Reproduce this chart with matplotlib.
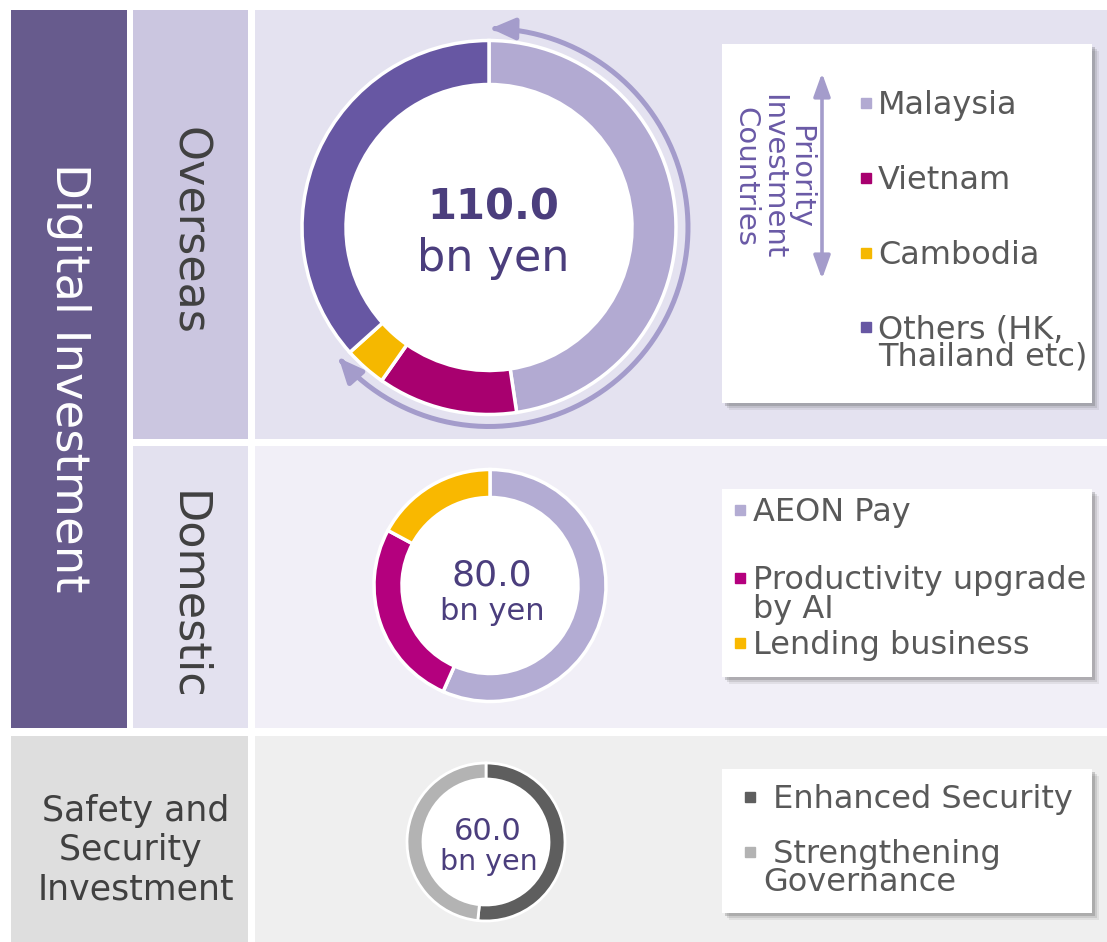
import numpy as np
import matplotlib
matplotlib.use('Agg')
import matplotlib.pyplot as plt
from matplotlib.patches import Rectangle, Circle, FancyArrowPatch, ArrowStyle
from matplotlib.path import Path

# data (bn yen)
overseas_labels = ['Malaysia', 'Vietnam', 'Cambodia', 'Others (HK,\nThailand etc)']
overseas_values = [52.4, 13.3, 4.0, 40.3]
overseas_colors = ['#b2aad2', '#a8006f', '#f5b800', '#6757a3']

domestic_labels = ['AEON Pay', 'Productivity upgrade\nby AI', 'Lending business']
domestic_values = [45.3, 21.0, 13.7]
domestic_colors = ['#b3acd3', '#b4007e', '#f9b800']

safety_labels = [' Enhanced Security', ' Strengthening\nGovernance']
safety_values = [31.0, 29.0]
safety_colors = ['#5e5e5e', '#b3b3b3']

totals = ['110.0', '80.0', '60.0']

W, H = 1107, 942
fig = plt.figure(figsize=(W / 100, H / 100), dpi=100)
ax = fig.add_axes([0, 0, 1, 1])

def Y(y):
    return H - y

def box(x0, y0, x1, y1, color, z=0, alpha=1):
    ax.add_patch(Rectangle((x0, Y(y1)), x1 - x0, y1 - y0, facecolor=color,
                           edgecolor='none', zorder=z, alpha=alpha))

def legend_box(x0, y0, x1, y1):
    for d, a in [(7, .10), (5, .15), (3, .25)]:
        box(x0 + d, y0 + d, x1 + d, y1 + d, '#555555', z=1, alpha=a)
    box(x0, y0, x1, y1, 'white', z=2)

def donut(values, colors, cx, cy, r_out, r_in, edge=2.0):
    ax.add_patch(Circle((cx, Y(cy)), r_in, facecolor='white', edgecolor='none', zorder=0.5))
    ax.pie(values, colors=colors, startangle=90, counterclock=False,
           radius=r_out, center=(cx, Y(cy)),
           wedgeprops=dict(width=r_out - r_in, edgecolor='white', linewidth=edge),
           frame=True)

def legend(labels, colors, mx, tx, ys, ls, size=23):
    # ys: centre of the first line of each label; text hung from its top
    em = size * 100 / 72
    for lab, c, y in zip(labels, colors, ys):
        ax.plot(mx, Y(y), 's', color=c, ms=6.5, zorder=5)
        top = y + 0.729 * em / 2 - 0.76 * em
        ax.text(tx, Y(top), lab, fontsize=size, color='#595959', ha='left',
                va='top', linespacing=ls, zorder=5)

# panels
box(11, 10, 127, 728, '#675b8d')
box(133, 10, 248, 439, '#cbc6e0')
box(255, 10, 1107, 439, '#e4e2f0')
box(133, 446, 248, 728, '#e3e1ef')
box(255, 446, 1107, 728, '#f1eff7')
box(11, 736, 248, 942, '#dedede')
box(255, 736, 1107, 942, '#efefef')

ax.text(68, Y(378), 'Digital Investment', rotation=-90, color='white',
        fontsize=33.5, ha='center', va='center')
ax.text(188, Y(231), 'Overseas', rotation=-90, color='#404040',
        fontsize=32, ha='center', va='center')
ax.text(188, Y(596), 'Domestic', rotation=-90, color='#404040',
        fontsize=32, ha='center', va='center')
ax.text(136, Y(850), 'Safety and\nSecurity \nInvestment', color='#404040',
        fontsize=25, ha='center', va='center', multialignment='center',
        linespacing=1.2)

# donuts
donut(overseas_values, overseas_colors, 489, 227.5, 187, 143, edge=2.5)
donut(domestic_values, domestic_colors, 490, 585.5, 116, 88, edge=2.5)
donut(safety_values, safety_colors, 486, 842, 79, 63, edge=2.0)

tc = '#4b3e7d'
ax.text(493, Y(220), totals[0], fontsize=30, fontweight='bold', color=tc,
        ha='center', va='baseline')
ax.text(493, Y(271), 'bn yen', fontsize=32, color=tc, ha='center', va='baseline')
ax.text(492, Y(585), totals[1], fontsize=26, color=tc, ha='center', va='baseline')
ax.text(492, Y(620), 'bn yen', fontsize=22, color=tc, ha='center', va='baseline')
ax.text(488, Y(840), totals[2], fontsize=22, color=tc, ha='center', va='baseline')
ax.text(489, Y(870), 'bn yen', fontsize=20.5, color=tc, ha='center', va='baseline')

# arc arrow around the overseas donut
arrow_c = '#a49ccb'
th = np.radians(np.linspace(229, 0.5, 200))
R = 199
verts = np.column_stack([489 + R * np.sin(th), Y(227.5) + R * np.cos(th)])
ax.add_patch(FancyArrowPatch(path=Path(verts),
                             arrowstyle=ArrowStyle('<|-|>', head_length=0.45, head_width=0.2),
                             mutation_scale=32, color=arrow_c, lw=3.6, zorder=3))

# legends
legend_box(722, 44, 1092, 403)
legend_box(722, 489, 1092, 677)
legend_box(722, 769, 1092, 913)

ax.add_patch(FancyArrowPatch((822, Y(73)), (822, Y(279)),
                             arrowstyle=ArrowStyle('<|-|>', head_length=0.5, head_width=0.18),
                             mutation_scale=28, color=arrow_c, lw=2.6, shrinkA=0, shrinkB=0,
                             zorder=5))
ax.text(773, Y(177), 'Priority\nInvestment\nCountries', rotation=-90, color='#6a5aa6',
        fontsize=21, ha='center', va='center', multialignment='center', linespacing=0.97,
        zorder=5)

legend(overseas_labels, overseas_colors, 866, 878, [103, 178, 253, 327], 0.84)
legend(domestic_labels, domestic_colors, 740, 753, [510, 578, 643], 0.92)
legend(safety_labels, safety_colors, 750, 763, [797, 852], 0.84)

ax.set_xlim(0, W)
ax.set_ylim(0, H)
ax.set_aspect('auto')
ax.axis('off')
fig.savefig('out.png', dpi=100, facecolor='white')
